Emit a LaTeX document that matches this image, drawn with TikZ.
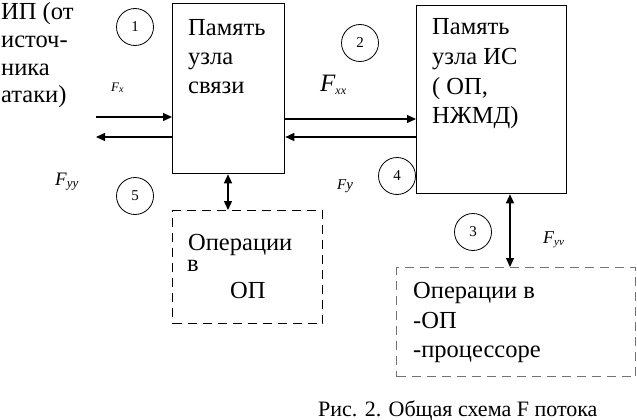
\documentclass[tikz,border=0pt]{standalone}
\usepackage{fontspec}
\setmainfont{Liberation Serif}
\usetikzlibrary{arrows.meta}
\newcommand\FS[2]{\fontsize{#1}{#1}\selectfont #2}
\begin{document}
\begin{tikzpicture}[x=1pt,y=-1pt,
  solidbox/.style={draw,line width=1.3pt,inner sep=0,anchor=north west},
  dashbox/.style={draw,line width=1.3pt,dash pattern=on 9pt off 6pt,inner sep=0,anchor=north west},
  txt/.style={anchor=base west,inner sep=0,font=\fontsize{24.5}{28}\selectfont},
  circ/.style={circle,draw,line width=0.8pt,minimum size=37pt,inner sep=0,font=\fontsize{15}{15}\selectfont},
  lbl/.style={anchor=base west,inner sep=0},
  arr/.style={line width=1.3pt,-{Triangle[length=9pt,width=8pt]}},
  darr/.style={line width=1.3pt,{Triangle[length=9pt,width=8pt]}-{Triangle[length=9pt,width=8pt]}}]
\useasboundingbox (0,0) rectangle (637,420);
% boxes
\node[solidbox,minimum width=112pt,minimum height=170pt] (b1) at (172,3) {};
\node[solidbox,minimum width=150pt,minimum height=188pt] (b2) at (416,5) {};
\node[dashbox,minimum width=150pt,minimum height=113pt] (o1) at (172,210) {};
\node[dashbox,draw=black!55,minimum width=239pt,minimum height=109pt] (o2) at (396,267) {};
% texts
\node[txt] (t1) at (1,20) {ИП (от};
\node[txt] (t2) at (1,48) {источ-};
\node[txt] (t3) at (1,75) {ника};
\node[txt] (t4) at (1,102) {атаки)};
\node[txt] (a1) at (188,36) {Память};
\node[txt] (a2) at (188,65) {узла};
\node[txt] (a3) at (188,93) {связи};
\node[txt] (c1) at (432,35) {Память};
\node[txt] (c2) at (432,65) {узла ИС};
\node[txt] (c3) at (432,95) {( ОП,};
\node[txt] (c4) at (432,123) {НЖМД)};
\node[txt] (p1) at (188,250) {Операции};
\node[txt] (p2) at (187,271) {в};
\node[txt] (p3) at (230,298) {ОП};
\node[txt] (q1) at (413,298) {Операции в};
\node[txt] (q2) at (413,328) {-ОП};
\node[txt] (q3) at (413,357) {-процессоре};
\node[txt,font=\fontsize{22}{26}\selectfont] (cap) at (318,416) {Рис. 2. Общая схема F потока};
% circles
\node[circ] (n1) at (135,27) {1};
\node[circ] (n2) at (360,43) {2};
\node[circ] (n3) at (473,232) {3};
\node[circ] (n4) at (397,176) {4};
\node[circ] (n5) at (135,196) {5};
% labels
\node[lbl] (fx) at (111,92) {\FS{13}{\itshape F\raisebox{-1pt}{\FS{10}{x}}}};
\node[lbl] (fyy) at (55,185) {\FS{19}{\itshape F\raisebox{-2pt}{\FS{13}{yy}}}};
\node[lbl] (fxx) at (320,92) {\FS{25}{\itshape F\raisebox{-2pt}{\FS{12}{xx}}}};
\node[lbl] (fy) at (337,189) {\FS{15}{\itshape Fy}};
\node[lbl] (fyv) at (543,243) {\FS{18}{\itshape F\raisebox{-2pt}{\FS{11}{yv}}}};
% connectors
\coordinate (l1) at (96,117);
\coordinate (l2) at (96,137);
\coordinate (m1) at (0,119);
\coordinate (m2) at (0,137);
\coordinate (v1) at (228,0);
\coordinate (v2) at (510,0);
\draw[arr] (l1) -- (b1.west |- l1);
\draw[arr] (b1.west |- l2) -- (l2);
\draw[arr] (b1.east |- m1) -- (b2.west |- m1);
\draw[arr] (b2.west |- m2) -- (b1.east |- m2);
\draw[darr] (b1.south -| v1) -- (o1.north -| v1);
\draw[darr] (b2.south -| v2) -- (o2.north -| v2);
\end{tikzpicture}
\end{document}
